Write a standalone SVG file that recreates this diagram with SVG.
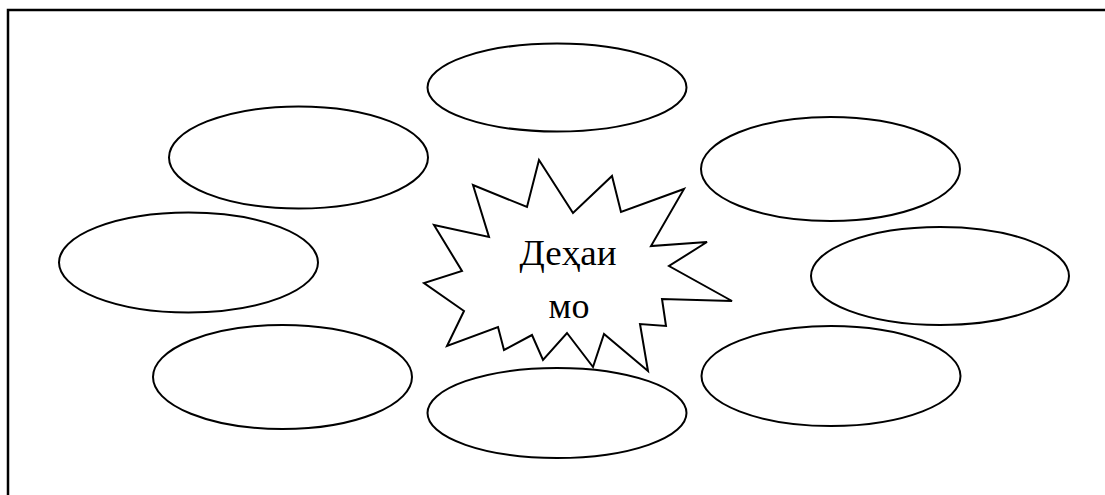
<svg xmlns="http://www.w3.org/2000/svg" width="1105" height="495" viewBox="0 0 1105 495">
<style>
.e{fill:#fff;stroke:#000;stroke-width:2}
.s{fill:#fff;stroke:#000;stroke-width:2;stroke-linejoin:miter}
.t{font-family:"Liberation Serif","DejaVu Serif",serif;font-size:36px;fill:#000;text-anchor:middle}
</style>
<rect width="1105" height="495" fill="#fff"/>
<g id="frame"><path d="M8 495 V10 H1105" fill="none" stroke="#000" stroke-width="2.5"/></g>
<g id="connectors"></g>
<g id="n-top"><ellipse class="e" cx="557" cy="87.5" rx="129.5" ry="44"/></g>
<g id="n-upper-left"><ellipse class="e" cx="298.5" cy="157.5" rx="129.5" ry="51"/></g>
<g id="n-upper-right"><ellipse class="e" cx="830.5" cy="169" rx="129.5" ry="52"/></g>
<g id="n-left"><ellipse class="e" cx="188.5" cy="262.5" rx="129.5" ry="50"/></g>
<g id="n-right"><ellipse class="e" cx="940" cy="276" rx="129" ry="49"/></g>
<g id="n-lower-left"><ellipse class="e" cx="282.5" cy="377" rx="129.5" ry="52"/></g>
<g id="n-lower-right"><ellipse class="e" cx="831" cy="376" rx="129.5" ry="50"/></g>
<g id="n-bottom"><ellipse class="e" cx="557" cy="413" rx="129.5" ry="45"/></g>
<g id="n-center">
<polygon class="s" points="539,160 573,213 612,176 621,212 684,189 651,246 707,242 669,266 732,301 662,299 666,326 640,324 648,371 604,334 593,367 567,333 543,360 532,335 504,350 498,327 447,346 464,311 424,283 462,271 434,225 489,237 473,185 527,207"/>
<text class="t" x="568" y="265" textLength="97" lengthAdjust="spacingAndGlyphs">Деҳаи</text>
<text class="t" x="569" y="318">мо</text>
</g>
</svg>
